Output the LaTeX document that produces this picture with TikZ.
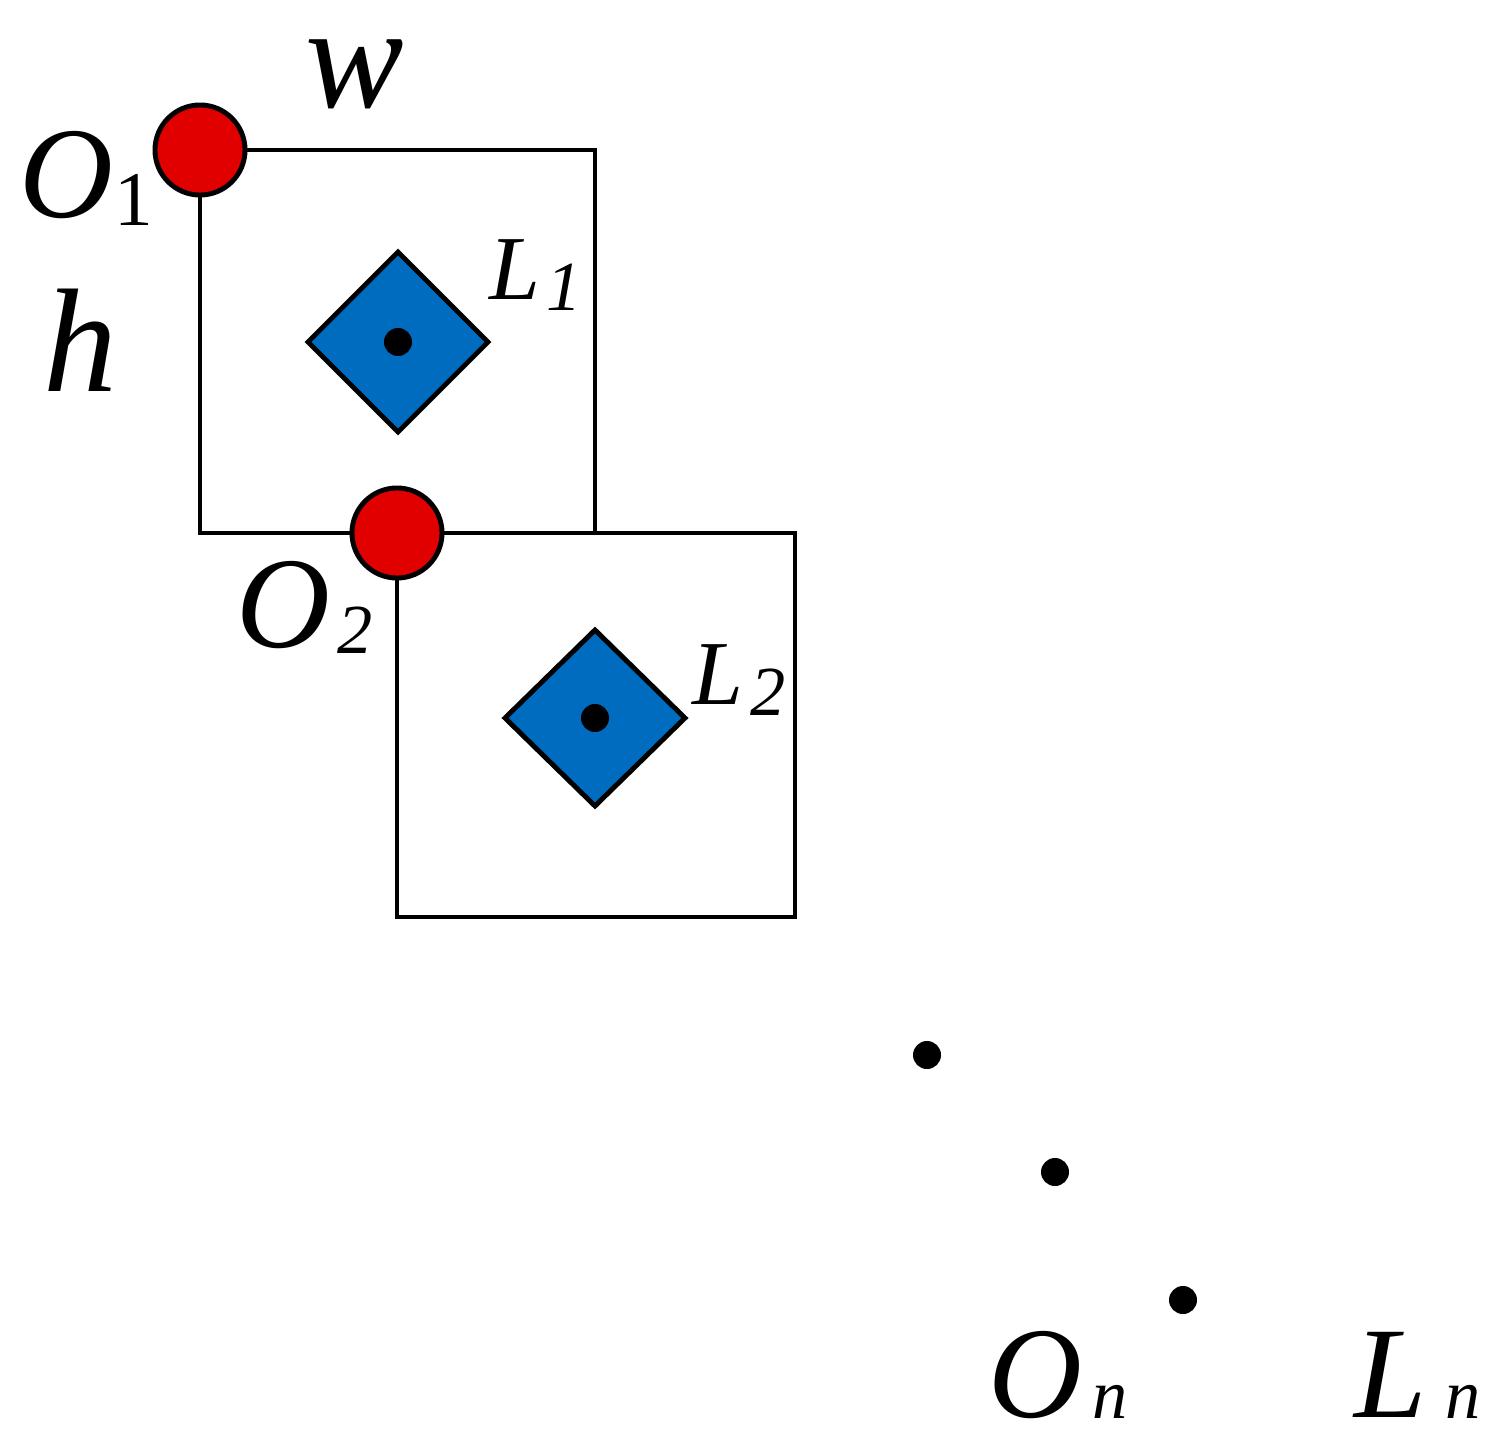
\documentclass[tikz,border=0pt]{standalone}
\usepackage{fontspec}
\setmainfont{Liberation Serif}
\begin{document}
\begin{tikzpicture}[x=0.01cm,y=-0.01cm,
  ln/.style={line width=1.4pt,black},
  red/.style={circle,draw=black,line width=1.4pt,fill=redc,minimum size=0.9cm,inner sep=0pt},
  dia/.style={draw=black,line width=1.4pt,fill=bluec},
  dot/.style={circle,fill=black,minimum size=0.28cm,inner sep=0pt},
  big/.style={font=\fontsize{37}{40}\selectfont\itshape,inner sep=0pt},
  mid/.style={font=\fontsize{26}{28}\selectfont\itshape,inner sep=0pt},
  sub/.style={font=\fontsize{20}{22}\selectfont\itshape,inner sep=0pt}]
\definecolor{redc}{RGB}{224,0,0}
\definecolor{bluec}{RGB}{0,108,192}
\useasboundingbox (0,0) rectangle (1500,1449);
\coordinate (a1) at (200,150); \coordinate (b1) at (595,533);
\coordinate (a2) at (397,533); \coordinate (b2) at (795,917);
\draw[ln] (a1) rectangle (b1);
\draw[ln] (a2) rectangle (b2);
\draw[dia] (308,342) -- (398,252) -- (488,342) -- (398,432) -- cycle;
\draw[dia] (505,718) -- (595,630) -- (685,718) -- (595,806) -- cycle;
\node[dot] (c1) at (398,342) {};
\node[dot] (c2) at (595,718) {};
\node[red] (O1) at (a1) {};
\node[red] (O2) at (a2) {};
\node[dot] (d1) at (927,1055) {};
\node[dot] (d2) at (1055,1172) {};
\node[dot] (d3) at (1183,1300) {};
\node[font=\fontsize{42}{44}\selectfont\itshape,inner sep=0pt] (w) at (355,74) {w};
\node[font=\fontsize{42}{44}\selectfont\itshape,inner sep=0pt] (h) at (80,340) {h};
\node[big] (tO1) at (66,175) {O};
\node[font=\fontsize{22}{24}\selectfont,inner sep=0pt] (s1) at (134,200) {1};
\node[mid] (tL1) at (515,270) {L};
\node[sub] (sL1) at (564,287) {1};
\node[big] (tO2) at (283,605) {O};
\node[sub] (s2) at (355,630) {2};
\node[mid] (tL2) at (718,675) {L};
\node[sub] (sL2) at (768,692) {2};
\node[big] (tOn) at (1035,1375) {O};
\node[sub] (sn) at (1110,1402) {n};
\node[big] (tLn) at (1391,1375) {L};
\node[sub] (sLn) at (1463,1402) {n};
\end{tikzpicture}
\end{document}
